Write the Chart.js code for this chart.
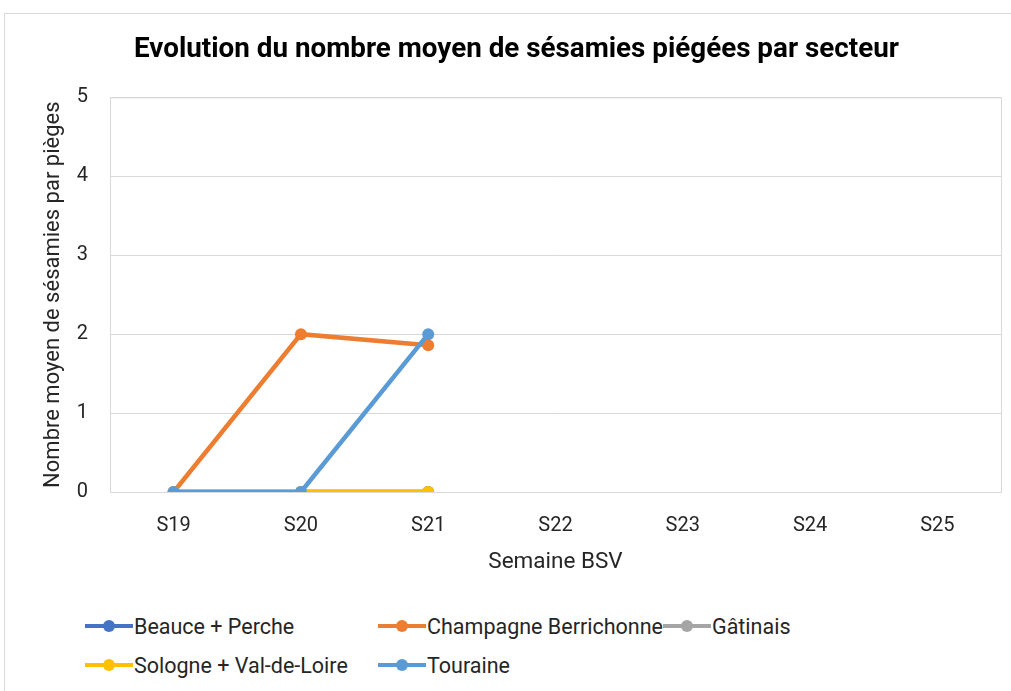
<!DOCTYPE html>
<html>
<head>
<meta charset="utf-8">
<script src="https://cdn.jsdelivr.net/npm/chart.js@4/dist/chart.umd.min.js"></script>
<style>
  body { margin: 0; background: #fff; font-family: Roboto, sans-serif; }
  #frame { position: absolute; left: 4px; top: 13px; width: 1010px; height: 690px; border: 1px solid #d9d9d9; box-sizing: border-box; }
  #wrap { position: absolute; left: 0; top: 0; width: 1011px; height: 600px; }
  #legend { position: absolute; left: 0; top: 613px; width: 1011px; font-size: 21.5px; color: #262626; }
  .item { position: absolute; display: flex; align-items: center; white-space: nowrap; }
  .sw { position: relative; width: 48px; height: 26px; margin-right: 1px; }
  .sw .ln { position: absolute; left: 0; right: 0; top: 11px; height: 4px; }
  .sw .dt { position: absolute; left: 18px; top: 7px; width: 12px; height: 12px; border-radius: 50%; }
</style>
</head>
<body>
<div id="frame"></div>
<div id="wrap"><canvas id="myChart"></canvas></div>
<div id="legend"></div>
<script>
const weeks = ['S19', 'S20', 'S21', 'S22', 'S23', 'S24', 'S25'];
const seriesNames = ['Beauce + Perche', 'Champagne Berrichonne', 'Gâtinais', 'Sologne + Val-de-Loire', 'Touraine'];
const beauce = [0, 0, 0];
const champagne = [0, 2, 1.86];
const gatinais = [0, 0, 0];
const sologne = [0, 0, 0];
const touraine = [0, 0, 2];
const colors = ['#4472C4', '#ED7D31', '#A5A5A5', '#FFC000', '#5B9BD5'];
const legendPos = [[85, 0], [378, 0], [663, 0], [85, 39], [378, 39]];

const allValues = [beauce, champagne, gatinais, sologne, touraine];
const txt = '#262626';

// plot area frame like excel
const plotBorder = {
  id: 'plotBorder',
  beforeDatasetsDraw(chart) {
    const { ctx, chartArea: a } = chart;
    ctx.save();
    ctx.strokeStyle = '#d9d9d9';
    ctx.lineWidth = 1;
    ctx.strokeRect(a.left + 0.5, a.top + 0.5, a.right - a.left, a.bottom - a.top);
    ctx.restore();
  }
};

const ctx = document.getElementById('myChart').getContext('2d');
new Chart(ctx, {
  type: 'line',
  data: {
    labels: weeks,
    datasets: seriesNames.map((name, i) => ({
      label: name,
      data: allValues[i],
      borderColor: colors[i],
      backgroundColor: colors[i],
      borderWidth: 4.5,
      pointRadius: 6,
      pointHoverRadius: 6,
      pointBorderWidth: 0,
      tension: 0,
      order: seriesNames.length - i
    }))
  },
  options: {
    responsive: true,
    maintainAspectRatio: false,
    animation: false,
    layout: { padding: { left: 32, right: 10, top: 0, bottom: 0 } },
    plugins: {
      legend: { display: false },
      tooltip: { enabled: false },
      title: {
        display: true,
        text: 'Evolution du nombre moyen de sésamies piégées par secteur',
        color: '#000',
        font: { family: 'Roboto', size: 27.8, weight: 'bold' },
        padding: { top: 33, bottom: 31 }
      }
    },
    scales: {
      x: {
        offset: true,
        grid: { display: false },
        border: { color: '#d9d9d9' },
        afterFit(scale) { scale.height = 108; },
        ticks: { color: txt, font: { family: 'Roboto', size: 20 }, padding: 14 },
        title: { display: true, text: 'Semaine BSV', color: txt, font: { family: 'Roboto', size: 22.5 }, padding: { top: 0, bottom: 24 } }
      },
      y: {
        min: 0,
        max: 5,
        afterFit(scale) { scale.width = 78; },
        ticks: { stepSize: 1, color: txt, font: { family: 'Roboto', size: 20 }, padding: 22 },
        grid: { color: '#d9d9d9', drawTicks: false },
        border: { display: false },
        title: { display: true, text: 'Nombre moyen de sésamies par pièges', color: txt, font: { family: 'Roboto', size: 22 }, padding: { top: 8, bottom: 0 } }
      }
    }
  },
  plugins: [plotBorder]
});

// html legend, excel-like layout
const leg = document.getElementById('legend');
seriesNames.forEach((name, i) => {
  const it = document.createElement('div');
  it.className = 'item';
  it.style.left = legendPos[i][0] + 'px';
  it.style.top = legendPos[i][1] + 'px';
  it.innerHTML = '<div class="sw"><div class="ln" style="background:' + colors[i] + '"></div><div class="dt" style="background:' + colors[i] + '"></div></div><span>' + name + '</span>';
  leg.appendChild(it);
});
</script>
</body>
</html>
